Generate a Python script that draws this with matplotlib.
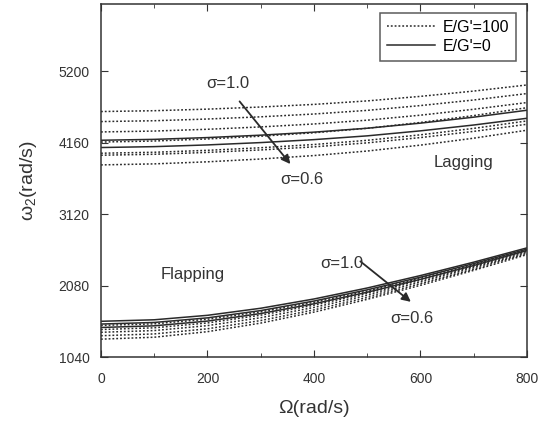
import matplotlib
matplotlib.use("Agg")
from matplotlib import pyplot as plt
from matplotlib.ticker import MultipleLocator

plt.rcParams['font.family'] = ['Liberation Sans', 'DejaVu Sans']

# rotor speed (rad/s)
omega = [0, 100, 200, 300, 400, 500, 600, 700, 800]

# lagging mode, E/G'=100 (dotted)
lag_dotted = [
    [4614, 4626, 4649, 4680, 4718, 4769, 4835, 4912, 5001],
    [4468, 4480, 4505, 4537, 4578, 4631, 4701, 4782, 4876],
    [4317, 4330, 4356, 4390, 4433, 4488, 4561, 4647, 4745],
    [4170, 4185, 4215, 4255, 4305, 4370, 4455, 4555, 4670],
    [4007, 4021, 4049, 4087, 4134, 4195, 4275, 4369, 4477],
    [3978, 3992, 4019, 4055, 4100, 4158, 4235, 4325, 4429],
    [3837, 3852, 3882, 3923, 3973, 4039, 4125, 4226, 4342],
]
# lagging mode, E/G'=0 (solid)
lag_solid = [
    [4196, 4209, 4235, 4270, 4314, 4371, 4445, 4532, 4633],
    [4090, 4103, 4128, 4162, 4205, 4260, 4333, 4418, 4516],
]
# flapping mode, E/G'=100 (dotted)
flap_dotted = [
    [1500, 1523, 1590, 1697, 1836, 2000, 2186, 2386, 2600],
    [1440, 1465, 1536, 1649, 1795, 1966, 2157, 2361, 2580],
    [1400, 1425, 1497, 1612, 1762, 1938, 2133, 2341, 2565],
    [1350, 1376, 1451, 1571, 1726, 1907, 2108, 2321, 2550],
    [1300, 1328, 1409, 1534, 1694, 1880, 2084, 2302, 2531],
]
# flapping mode, E/G'=0 (solid)
flap_solid = [
    [1560, 1582, 1647, 1750, 1885, 2045, 2226, 2421, 2629],
    [1520, 1543, 1610, 1716, 1855, 2018, 2202, 2400, 2610],
    [1470, 1494, 1563, 1673, 1815, 1983, 2171, 2372, 2590],
]

fig = plt.figure(figsize=(5.47, 4.24), dpi=100)
ax = fig.add_axes([0.1846, 0.158, 0.7788, 0.8326])

col = '#2a2a2a'
txt = '#333333'
for i, y in enumerate(lag_dotted + flap_dotted):
    ax.plot(omega, y, color=col, lw=1.1, dashes=(1.2, 1.3),
            label="E/G'=100" if i == 0 else None)
for i, y in enumerate(lag_solid + flap_solid):
    ax.plot(omega, y, color=col, lw=1.1,
            label="E/G'=0" if i == 0 else None)

# sigma arrows and labels
ax.annotate('', xy=(359, 3818), xytext=(257, 4793),
            arrowprops=dict(arrowstyle='-|>', color=col, lw=1.3, mutation_scale=13))
ax.text(238, 5026, 'σ=1.0', ha='center', va='center', fontsize=12, color=txt)
ax.text(377, 3629, 'σ=0.6', ha='center', va='center', fontsize=12, color=txt)

ax.annotate('', xy=(586, 1818), xytext=(483, 2458),
            arrowprops=dict(arrowstyle='-|>', color=col, lw=1.3, mutation_scale=13))
ax.text(453, 2400, 'σ=1.0', ha='center', va='center', fontsize=12, color=txt)
ax.text(584, 1600, 'σ=0.6', ha='center', va='center', fontsize=12, color=txt)

ax.text(173, 2240, 'Flapping', ha='center', va='center', fontsize=12, color=txt)
ax.text(680, 3876, 'Lagging', ha='center', va='center', fontsize=12, color=txt)

ax.set_xlim(0, 800)
ax.set_ylim(1040, 6180)
ax.set_xticks([0, 200, 400, 600, 800])
ax.xaxis.set_minor_locator(MultipleLocator(100))
ax.set_yticks([1040, 2080, 3120, 4160, 5200])
ax.tick_params(which='both', direction='in', top=True, right=True,
               labelsize=10, colors=txt)
ax.tick_params(axis='x', pad=11)
ax.tick_params(axis='y', pad=8)
ax.tick_params(which='major', length=5)
ax.tick_params(which='minor', length=3)
for s in ax.spines.values():
    s.set_color(txt)
    s.set_linewidth(1.1)

ax.set_xlabel('Ω(rad/s)', fontsize=14, color=txt, labelpad=10)
ax.set_ylabel(r'$\mathregular{\omega_2}$(rad/s)', fontsize=14, color=txt, labelpad=14)

leg = ax.legend(loc='upper right', bbox_to_anchor=(0.975, 0.975), fontsize=11.5,
                frameon=True, fancybox=False, handlelength=3.0, borderpad=0.45,
                labelspacing=0.25, handletextpad=0.5, borderaxespad=0)
leg.get_frame().set_edgecolor(txt)
leg.get_frame().set_linewidth(1.1)

fig.savefig('out.png', dpi=100)
